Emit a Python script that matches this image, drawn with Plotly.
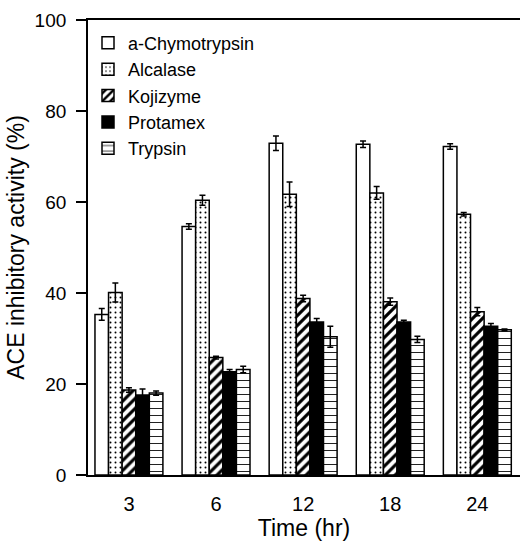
import plotly.graph_objects as go

times = ["3", "6", "12", "18", "24"]
series = ["a-Chymotrypsin", "Alcalase", "Kojizyme", "Protamex", "Trypsin"]
chymo = [35.3, 54.6, 72.9, 72.7, 72.2]
chymo_err = [1.3, 0.6, 1.6, 0.7, 0.6]
alcalase = [40.1, 60.4, 61.7, 62.0, 57.3]
alcalase_err = [2.1, 1.1, 2.7, 1.4, 0.4]
kojizyme = [18.7, 25.8, 38.8, 38.1, 35.9]
kojizyme_err = [0.5, 0.3, 0.7, 0.8, 0.9]
protamex = [17.6, 22.7, 33.6, 33.6, 32.7]
protamex_err = [1.3, 0.5, 0.8, 0.4, 0.6]
trypsin = [18.0, 23.2, 30.4, 29.8, 31.9]
trypsin_err = [0.45, 0.7, 2.3, 0.7, 0.2]

values = [chymo, alcalase, kojizyme, protamex, trypsin]
errors = [chymo_err, alcalase_err, kojizyme_err, protamex_err, trypsin_err]
patterns = [
    dict(shape=""),
    dict(shape=".", size=5, solidity=0.12, fgcolor="black", bgcolor="white", fillmode="replace"),
    dict(shape="/", size=7, solidity=0.45, fgcolor="black", bgcolor="white", fillmode="replace"),
    dict(shape=""),
    dict(shape="-", size=7, solidity=0.15, fgcolor="#222", bgcolor="white", fillmode="replace"),
]
colors = ["white", "white", "white", "black", "white"]

fig = go.Figure()
for name, v, e, p, c in zip(series, values, errors, patterns, colors):
    fig.add_trace(go.Bar(
        x=times, y=v, name=name,
        marker=dict(color=c, line=dict(color="black", width=1.5), pattern=p),
        error_y=dict(type="data", array=e, visible=True, color="black", thickness=1.5, width=3),
    ))

fig.update_layout(
    width=520, height=542,
    margin=dict(l=88, r=0, t=20, b=67),
    paper_bgcolor="white", plot_bgcolor="white",
    barmode="group", bargap=0.22, bargroupgap=0,
    font=dict(family="Liberation Sans, Arial, sans-serif", color="black"),
    showlegend=True,
    legend=dict(x=0.0, y=0.99, xanchor="left", yanchor="top",
                font=dict(size=18), bgcolor="rgba(0,0,0,0)",
                tracegroupgap=0),
    xaxis=dict(
        type="category", range=[-0.47, 4.49],
        showline=True, linecolor="black", linewidth=1.8, mirror=True,
        ticks="", tickfont=dict(size=20), ticklabelstandoff=10,
        title=dict(text="Time (hr)", font=dict(size=23), standoff=2),
        showgrid=False, zeroline=False,
    ),
    yaxis=dict(
        range=[0, 100], tickvals=[0, 20, 40, 60, 80, 100],
        showline=True, linecolor="black", linewidth=1.8,
        ticks="outside", ticklen=10, tickwidth=1.5, tickcolor="black",
        tickfont=dict(size=19), ticklabelstandoff=6,
        title=dict(text="ACE inhibitory activity (%)", font=dict(size=23), standoff=4),
        showgrid=False, zeroline=False,
    ),
)

fig.write_html("out.html")
